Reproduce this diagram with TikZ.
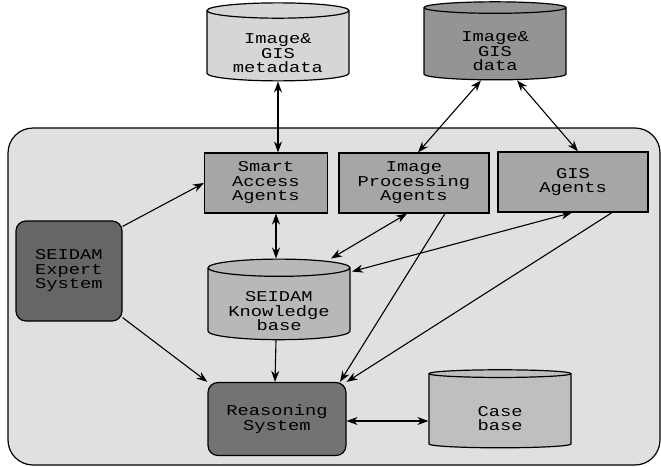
\documentclass[tikz,border=0pt]{standalone}
\usepackage{fontspec}
\usetikzlibrary{shapes.geometric,arrows.meta}
\newfontfamily\diafont[FakeStretch=1.25]{Liberation Mono}

\tikzset{
  label text/.style={font=\diafont\fontsize{15}{14.5}\selectfont, align=center, text=black, inner sep=0pt},
  agentbox/.style={rectangle, draw, line width=1.2pt, fill=black!35, minimum width=#1, minimum height=60pt},
  systembox/.style={rectangle, rounded corners=10pt, draw, line width=1.2pt, fill=black!55},
  datastore/.style={cylinder, shape border rotate=90, aspect=0.17, draw, line width=1.2pt,
    minimum width=142pt, minimum height=78pt, text height=#1},
  datastore/.default=54pt,
}

\begin{document}
\begin{tikzpicture}[x=1pt, y=-1pt, >={Stealth[length=11pt,width=8pt]}]
\useasboundingbox (0,0) rectangle (661,466);
% background frame
\node[draw, rounded corners=25pt, line width=1.2pt, fill=black!12,
  minimum width=652pt, minimum height=337pt] (frame) at (334,296.5) {};
\begin{scope}[every node/.style = {label text}]
\node[datastore, fill=black!16] (meta) at (278,46) {Image\&\\GIS\\metadata};
\node[datastore, fill=black!42] (data) at (495,44) {Image\&\\GIS\\data};
\node[agentbox=123pt] (smart) at (266,183) {Smart\\Access\\Agents};
\node[agentbox=150pt] (improc) at (414,183) {Image\\Processing\\Agents};
\node[agentbox=150pt] (gisag) at (573,182) {GIS\\Agents};
\node[systembox, fill=black!60, minimum width=106pt, minimum height=100pt] (expert) at (69,271) {SEIDAM\\Expert\\System};
\node[datastore, fill=black!28] (know) at (279,304) {SEIDAM\\Knowledge\\base};
\node[systembox, minimum width=138pt, minimum height=73pt] (reason) at (277,419) {Reasoning\\System};
\node[datastore=40pt, fill=black!25] (case) at (500,411) {Case\\base};
\end{scope}
\begin{scope}[every edge/.style = {draw, line width=1.1pt}]
\path (meta.south) edge[<->] (smart.north -| meta.south);
\path ([xshift=-14pt]data.south) edge[<->] ([xshift=4pt]improc.north);
\path ([xshift=22pt]data.south) edge[<->] ([xshift=5pt]gisag.north);
\path ([yshift=-6pt]expert.north east) edge[->] (smart.west);
\path ([xshift=10pt]smart.south) edge[<->] ([xshift=-3pt]know.north);
\path ([xshift=-7pt]improc.south) edge[<->] ([xshift=52pt]know.north);
\path ([xshift=-1pt]gisag.south) edge[<->] ([xshift=73pt,yshift=-13pt]know.north);
\path ([xshift=31pt]improc.south) edge[->] ([xshift=63pt]reason.north);
\path ([xshift=39pt]gisag.south) edge[->] (reason.north east);
\path ([yshift=4pt]expert.south east) edge[->] (reason.north west);
\path ([xshift=-3pt]know.south) edge[->] ([xshift=-2pt]reason.north);
\path ([yshift=-2pt]reason.east) edge[<->] ([yshift=-2pt]reason.east -| case.west);
\end{scope}
\end{tikzpicture}
\end{document}
